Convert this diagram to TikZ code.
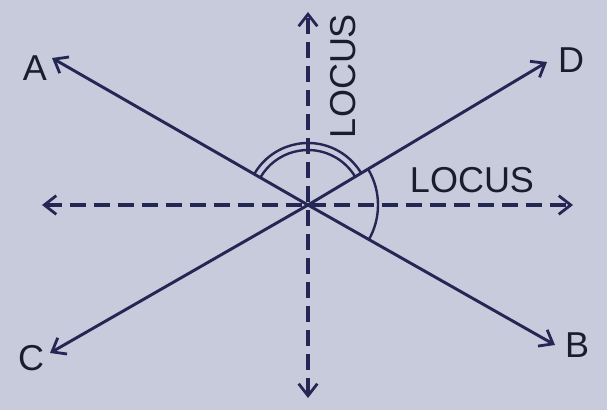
\documentclass[tikz,border=0pt]{standalone}
\usepackage{fontspec}
\setmainfont{Liberation Sans}
\usetikzlibrary{arrows.meta}
\definecolor{bg}{RGB}{199,203,219}
\definecolor{ink}{RGB}{36,38,84}
\definecolor{txt}{RGB}{28,29,44}
\begin{document}
\begin{tikzpicture}[x=0.75pt,y=0.75pt,
  ray/.style={draw=ink, line width=2.2pt, -{Straight Barb[length=9pt,width=14pt,line width=2.1pt]}},
  locusline/.style={draw=ink, line width=2.4pt, dash pattern=on 12pt off 6pt, {Straight Barb[length=9pt,width=14pt,line width=2.1pt]}-{Straight Barb[length=9pt,width=14pt,line width=2.1pt]}},
  arcmark/.style={draw=ink, line width=1.8pt},
  lbl/.style={text=txt, font=\fontsize{27}{31}\selectfont, inner sep=0pt}]
\fill[bg] (0,0) rectangle (607,410);
\useasboundingbox (0,0) rectangle (607,410);
\coordinate (O) at (308,205);
\coordinate (tA) at (52,352);
\coordinate (tB) at (555,65);
\coordinate (tC) at (50,57);
\coordinate (tD) at (547,348);
\coordinate (hL) at (42,205);
\coordinate (hR) at (573,205);
\coordinate (vT) at (308,398);
\coordinate (vB) at (308,12);
% dashed loci
\draw[locusline] (hL) -- (hR);
\draw[locusline] (vB) -- (vT);
% lines
\draw[ray] (O) -- (tA);
\draw[ray] (O) -- (tB);
\draw[ray] (O) -- (tC);
\draw[ray] (O) -- (tD);
% angle marks
\draw[arcmark] (O) ++(150:62) arc[start angle=150, end angle=30, radius=62];
\draw[arcmark] (O) ++(150:55) arc[start angle=150, end angle=30, radius=55];
\draw[arcmark] (O) ++(30:70) arc[start angle=30, end angle=-30, radius=70];
% labels
\node[lbl] (A) at (35,342) {A};
\node[lbl] (B) at (577,65) {B};
\node[lbl] (C) at (31,52) {C};
\node[lbl] (D) at (571,350) {D};
\node[lbl] (L1) at (472,230) {LOCUS};
\node[lbl, rotate=90] (L2) at (343,334) {LOCUS};
\end{tikzpicture}
\end{document}
